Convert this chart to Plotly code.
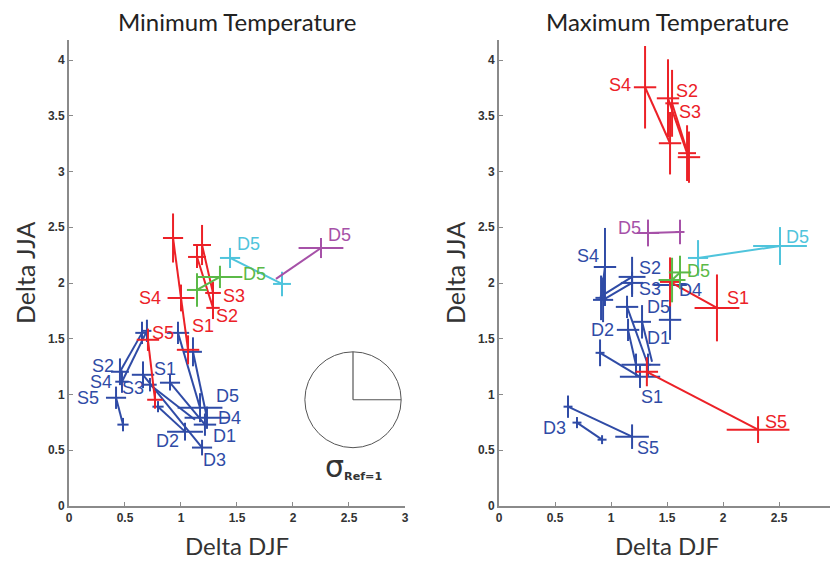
import plotly.graph_objects as go

# ---------------- DATA ----------------
# Each segment: two points [start, end], with +/- error in x and y at each point.
# ---- Minimum Temperature panel ----
MIN_BLUE_X = [[0.455, 0.652], [0.473, 0.696], [0.42, 0.482], [0.661, 1.188], [0.902, 1.214],
              [0.795, 1.036], [0.973, 1.17], [1.107, 1.232], [0.723, 1.125]]
MIN_BLUE_Y = [[1.204, 1.553], [1.115, 1.571], [0.971, 0.73], [1.177, 0.524], [1.106, 0.73],
              [0.891, 0.667], [1.553, 0.882], [1.383, 0.792], [1.088, 0.774]]
MIN_BLUE_EX = [[0.08, 0.06], [0.06, 0.04], [0.09, 0.05], [0.10, 0.09], [0.09, 0.10],
               [0.05, 0.16], [0.10, 0.20], [0.08, 0.20], [0.06, 0.0]]
MIN_BLUE_EY = [[0.12, 0.10], [0.10, 0.10], [0.10, 0.06], [0.12, 0.07], [0.07, 0.10],
               [0.05, 0.08], [0.10, 0.13], [0.13, 0.10], [0.06, 0.0]]
MIN_BLUE_START_LABEL = ["S2", "S4", "S5", "S3", "S1", "", "", "", ""]
MIN_BLUE_END_LABEL = ["", "", "", "D3", "D1", "D2", "D5", "D4", ""]

MIN_RED_X = [[0.929, 1.0], [1.0, 1.063], [1.188, 1.286], [1.143, 1.286], [0.705, 0.768]]
MIN_RED_Y = [[2.404, 1.866], [1.866, 1.401], [2.341, 1.911], [2.234, 1.777], [1.491, 0.953]]
MIN_RED_EX = [[0.09, 0.12], [0.0, 0.10], [0.08, 0.07], [0.08, 0.06], [0.10, 0.07]]
MIN_RED_EY = [[0.22, 0.12], [0.0, 0.13], [0.18, 0.10], [0.10, 0.10], [0.10, 0.08]]
MIN_RED_START_LABEL = ["", "", "", "", "S5"]
MIN_RED_END_LABEL = ["S4", "S1", "S3", "S2", ""]

MIN_GREEN_X = [[1.143, 1.348]]
MIN_GREEN_Y = [[1.938, 2.055]]
MIN_GREEN_EX = [[0.09, 0.20]]
MIN_GREEN_EY = [[0.15, 0.10]]
MIN_GREEN_START_LABEL = [""]
MIN_GREEN_END_LABEL = ["D5"]

MIN_CYAN_X = [[1.438, 1.902]]
MIN_CYAN_Y = [[2.225, 1.992]]
MIN_CYAN_EX = [[0.09, 0.08]]
MIN_CYAN_EY = [[0.09, 0.11]]
MIN_CYAN_START_LABEL = ["D5"]
MIN_CYAN_END_LABEL = [""]

MIN_PURPLE_X = [[1.848, 2.25]]
MIN_PURPLE_Y = [[2.037, 2.314]]
MIN_PURPLE_EX = [[0.0, 0.20]]
MIN_PURPLE_EY = [[0.0, 0.09]]
MIN_PURPLE_START_LABEL = [""]
MIN_PURPLE_END_LABEL = ["D5"]

# ---- Maximum Temperature panel ----
MAX_BLUE_X = [[0.946, 0.911], [1.188, 0.902], [1.188, 0.929], [1.143, 1.33], [1.527, 1.527],
              [1.277, 1.366], [1.152, 1.223], [0.902, 1.259], [0.696, 0.92], [0.616, 1.188]]
MAX_BLUE_Y = [[2.144, 1.867], [2.055, 1.876], [2.001, 1.849], [1.786, 1.267], [1.983, 1.67],
              [1.652, 1.294], [1.58, 1.267], [1.374, 1.159], [0.748, 0.595], [0.891, 0.622]]
MAX_BLUE_EX = [[0.10, 0.05], [0.12, 0.0], [0.10, 0.09], [0.10, 0.11], [0.15, 0.10],
               [0.08, 0.0], [0.10, 0.13], [0.04, 0.18], [0.04, 0.04], [0.04, 0.15]]
MAX_BLUE_EY = [[0.35, 0.20], [0.18, 0.0], [0.10, 0.20], [0.10, 0.10], [0.05, 0.18],
               [0.15, 0.0], [0.10, 0.10], [0.12, 0.10], [0.05, 0.04], [0.10, 0.11]]
MAX_BLUE_START_LABEL = ["S4", "S2", "S3", "D5", "D4", "D1", "D2", "", "D3", ""]
MAX_BLUE_END_LABEL = ["", "", "", "", "", "", "", "S1", "", "S5"]

MAX_RED_X = [[1.304, 1.527], [1.509, 1.679], [1.545, 1.696], [1.527, 1.946], [1.32, 2.313]]
MAX_RED_Y = [[3.756, 3.254], [3.657, 3.165], [3.612, 3.129], [2.01, 1.777], [1.204, 0.685]]
MAX_RED_EX = [[0.10, 0.10], [0.10, 0.08], [0.06, 0.10], [0.09, 0.20], [0.10, 0.28]]
MAX_RED_EY = [[0.37, 0.28], [0.35, 0.25], [0.30, 0.23], [0.22, 0.30], [0.13, 0.12]]
MAX_RED_START_LABEL = ["S4", "S2", "S3", "", ""]
MAX_RED_END_LABEL = ["", "", "", "S1", "S5"]

MAX_GREEN_X = [[1.545, 1.616]]
MAX_GREEN_Y = [[2.027, 2.095]]
MAX_GREEN_EX = [[0.12, 0.10]]
MAX_GREEN_EY = [[0.20, 0.15]]
MAX_GREEN_START_LABEL = [""]
MAX_GREEN_END_LABEL = ["D5"]

MAX_CYAN_X = [[1.777, 2.509]]
MAX_CYAN_Y = [[2.225, 2.332]]
MAX_CYAN_EX = [[0.09, 0.24]]
MAX_CYAN_EY = [[0.16, 0.17]]
MAX_CYAN_START_LABEL = [""]
MAX_CYAN_END_LABEL = ["D5"]

MAX_PURPLE_X = [[1.33, 1.616]]
MAX_PURPLE_Y = [[2.449, 2.458]]
MAX_PURPLE_EX = [[0.10, 0.04]]
MAX_PURPLE_EY = [[0.12, 0.11]]
MAX_PURPLE_START_LABEL = ["D5"]
MAX_PURPLE_END_LABEL = [""]

X_TICKS = [0, 0.5, 1, 1.5, 2, 2.5, 3]
Y_TICKS = [0, 0.5, 1, 1.5, 2, 2.5, 3, 3.5, 4]
PANEL_TITLES = ["Minimum Temperature", "Maximum Temperature"]
X_TITLE = "Delta DJF"
Y_TITLE = "Delta JJA"

# reference circle (sigma_Ref = 1) in the minimum panel
SIGMA_CX, SIGMA_CY, SIGMA_R = 2.536, 0.953, 0.43
SIGMA_LABEL_Y = 0.35

# ---------------- STYLE ----------------
BLUE = "#2f4ba6"
RED = "#ec2127"
GREEN = "#5bb947"
CYAN = "#4fc4dc"
PURPLE = "#a651a8"
LBL = "Liberation Sans"
LBL_SIZE = 18
TXT = "Lato"

# label pixel offsets (dx, dy) relative to the labelled point
MIN_BLUE_START_OFF = [(-17, 6), (-21, 0), (-28, 0), (-10, -13), (-5, 14), None, None, None, None]
MIN_BLUE_END_OFF = [None, None, None, (12, -12), (20, -11), (-18, -9), (27, 12), (23, 0), None]
MIN_RED_START_OFF = [None, None, None, None, (15, 7)]
MIN_RED_END_OFF = [(-31, 0), (15, 24), (21, -3), (14, -8), None]
MIN_GREEN_START_OFF = [None]
MIN_GREEN_END_OFF = [(35, 3)]
MIN_CYAN_START_OFF = [(18, 14)]
MIN_CYAN_END_OFF = [None]
MIN_PURPLE_START_OFF = [None]
MIN_PURPLE_END_OFF = [(19, 13)]

MAX_BLUE_START_OFF = [(-17, 11), (18, 9), (18, -6), (31, 0), (20, -5), (16, -16), (-26, 0), None, (-22, -5), None]
MAX_BLUE_END_OFF = [None, None, None, None, None, None, None, (12, -20), None, (16, -11)]
MAX_RED_START_OFF = [(-25, 2), (19, 7), (18, -9), None, None]
MAX_RED_END_OFF = [None, None, None, (21, 10), (18, 8)]
MAX_GREEN_START_OFF = [None]
MAX_GREEN_END_OFF = [(18, 1)]
MAX_CYAN_START_OFF = [None]
MAX_CYAN_END_OFF = [(17, 9)]
MAX_PURPLE_START_OFF = [(-18, 5)]
MAX_PURPLE_END_OFF = [None]

fig = go.Figure()
annotations = []


def add_group(xs, ys, exs, eys, slab, elab, soff, eoff, color, xa, ya):
    for i in range(len(xs)):
        fig.add_trace(go.Scatter(
            x=xs[i], y=ys[i], mode="lines", xaxis=xa, yaxis=ya,
            line=dict(color=color, width=2), showlegend=False, hoverinfo="skip",
            error_x=dict(type="data", array=exs[i], symmetric=True, width=0, thickness=2, color=color),
            error_y=dict(type="data", array=eys[i], symmetric=True, width=0, thickness=2, color=color),
        ))
        for idx, labs, offs in ((0, slab, soff), (1, elab, eoff)):
            if labs[i]:
                dx, dy = offs[i]
                annotations.append(dict(
                    x=xs[i][idx], y=ys[i][idx], xref=xa, yref=ya, text=labs[i],
                    showarrow=False, xshift=dx, yshift=dy, xanchor="center", yanchor="middle",
                    font=dict(family=LBL, size=LBL_SIZE, color=color)))


add_group(MIN_BLUE_X, MIN_BLUE_Y, MIN_BLUE_EX, MIN_BLUE_EY, MIN_BLUE_START_LABEL, MIN_BLUE_END_LABEL,
          MIN_BLUE_START_OFF, MIN_BLUE_END_OFF, BLUE, "x", "y")
add_group(MIN_RED_X, MIN_RED_Y, MIN_RED_EX, MIN_RED_EY, MIN_RED_START_LABEL, MIN_RED_END_LABEL,
          MIN_RED_START_OFF, MIN_RED_END_OFF, RED, "x", "y")
add_group(MIN_GREEN_X, MIN_GREEN_Y, MIN_GREEN_EX, MIN_GREEN_EY, MIN_GREEN_START_LABEL, MIN_GREEN_END_LABEL,
          MIN_GREEN_START_OFF, MIN_GREEN_END_OFF, GREEN, "x", "y")
add_group(MIN_CYAN_X, MIN_CYAN_Y, MIN_CYAN_EX, MIN_CYAN_EY, MIN_CYAN_START_LABEL, MIN_CYAN_END_LABEL,
          MIN_CYAN_START_OFF, MIN_CYAN_END_OFF, CYAN, "x", "y")
add_group(MIN_PURPLE_X, MIN_PURPLE_Y, MIN_PURPLE_EX, MIN_PURPLE_EY, MIN_PURPLE_START_LABEL, MIN_PURPLE_END_LABEL,
          MIN_PURPLE_START_OFF, MIN_PURPLE_END_OFF, PURPLE, "x", "y")

add_group(MAX_BLUE_X, MAX_BLUE_Y, MAX_BLUE_EX, MAX_BLUE_EY, MAX_BLUE_START_LABEL, MAX_BLUE_END_LABEL,
          MAX_BLUE_START_OFF, MAX_BLUE_END_OFF, BLUE, "x2", "y2")
add_group(MAX_RED_X, MAX_RED_Y, MAX_RED_EX, MAX_RED_EY, MAX_RED_START_LABEL, MAX_RED_END_LABEL,
          MAX_RED_START_OFF, MAX_RED_END_OFF, RED, "x2", "y2")
add_group(MAX_PURPLE_X, MAX_PURPLE_Y, MAX_PURPLE_EX, MAX_PURPLE_EY, MAX_PURPLE_START_LABEL, MAX_PURPLE_END_LABEL,
          MAX_PURPLE_START_OFF, MAX_PURPLE_END_OFF, PURPLE, "x2", "y2")
add_group(MAX_CYAN_X, MAX_CYAN_Y, MAX_CYAN_EX, MAX_CYAN_EY, MAX_CYAN_START_LABEL, MAX_CYAN_END_LABEL,
          MAX_CYAN_START_OFF, MAX_CYAN_END_OFF, CYAN, "x2", "y2")
add_group(MAX_GREEN_X, MAX_GREEN_Y, MAX_GREEN_EX, MAX_GREEN_EY, MAX_GREEN_START_LABEL, MAX_GREEN_END_LABEL,
          MAX_GREEN_START_OFF, MAX_GREEN_END_OFF, GREEN, "x2", "y2")

# sigma reference circle
shapes = [
    dict(type="circle", xref="x", yref="y", x0=SIGMA_CX - SIGMA_R, x1=SIGMA_CX + SIGMA_R,
         y0=SIGMA_CY - SIGMA_R, y1=SIGMA_CY + SIGMA_R, line=dict(color="#555", width=1)),
    dict(type="line", xref="x", yref="y", x0=SIGMA_CX, x1=SIGMA_CX, y0=SIGMA_CY, y1=SIGMA_CY + SIGMA_R,
         line=dict(color="#555", width=1.2)),
    dict(type="line", xref="x", yref="y", x0=SIGMA_CX, x1=SIGMA_CX + SIGMA_R, y0=SIGMA_CY, y1=SIGMA_CY,
         line=dict(color="#555", width=1.2)),
]
annotations.append(dict(
    x=SIGMA_CX, y=SIGMA_LABEL_Y, xref="x", yref="y", showarrow=False, xanchor="center",
    text="<span style='font-size:30px'>σ</span><sub><b>Ref=1</b></sub>",
    font=dict(family="DejaVu Sans", size=16, color="#333")))

DOM1 = [0.0, 0.4386]
DOM2 = [0.5614, 1.0]
for dom, title in zip((DOM1, DOM2), PANEL_TITLES):
    cx = (dom[0] + dom[1]) / 2
    annotations.append(dict(x=cx, y=1, xref="paper", yref="paper", yshift=19, text=title,
                            showarrow=False, font=dict(family=TXT, size=24, color="#222"),
                            xanchor="center", yanchor="middle"))
    annotations.append(dict(x=cx, y=0, xref="paper", yref="paper", yshift=-39, text=X_TITLE,
                            showarrow=False, font=dict(family=TXT, size=24, color="#333"),
                            xanchor="center", yanchor="middle"))
    annotations.append(dict(x=dom[0], y=0.5, xref="paper", yref="paper", xshift=-44, text=Y_TITLE,
                            textangle=-90, showarrow=False,
                            font=dict(family=TXT, size=25, color="#333"),
                            xanchor="center", yanchor="middle"))

axis_common = dict(showline=True, linecolor="#8a8a8a", linewidth=2, ticks="inside", ticklen=4,
                   tickcolor="#8a8a8a", tickwidth=1, showgrid=False, zeroline=False,
                   automargin=False, ticklabeloverflow="allow",
                   tickfont=dict(family=LBL, size=12, color="#333", weight="bold"))

# the page body adds an 8px offset, so margins are shifted to compensate
fig.update_layout(
    width=838, height=563,
    margin=dict(l=61, r=11, t=32, b=65, autoexpand=False),
    paper_bgcolor="white", plot_bgcolor="white",
    xaxis=dict(domain=DOM1, range=[0, 3], tickvals=X_TICKS, anchor="y", **axis_common),
    yaxis=dict(domain=[0, 1], range=[0, 4.18], tickvals=Y_TICKS, anchor="x", **axis_common),
    xaxis2=dict(domain=DOM2, range=[0, 3], tickvals=X_TICKS, anchor="y2", **axis_common),
    yaxis2=dict(domain=[0, 1], range=[0, 4.18], tickvals=Y_TICKS, anchor="x2", **axis_common),
    shapes=shapes, annotations=annotations, showlegend=False,
)

fig.write_html("out.html")
